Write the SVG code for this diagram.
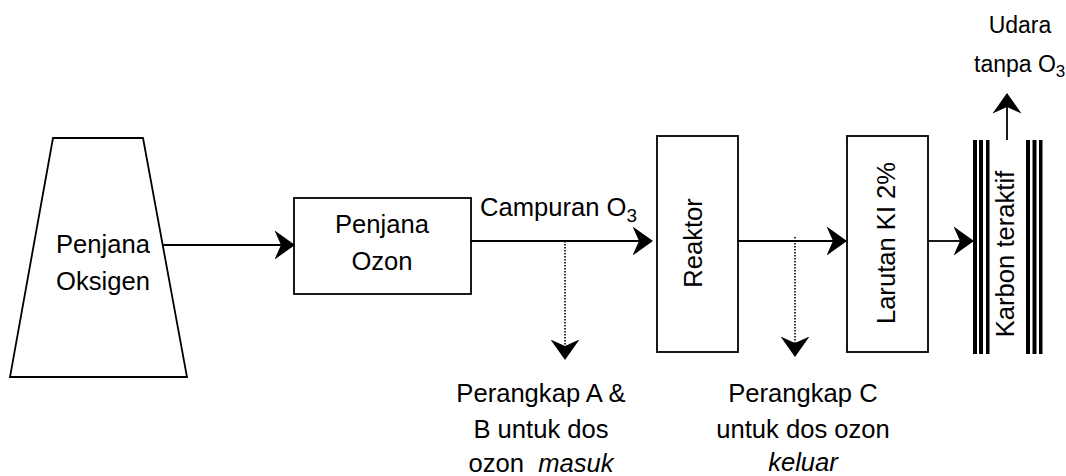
<svg xmlns="http://www.w3.org/2000/svg" width="1066" height="476" viewBox="0 0 1066 476">
<style>
.t{font-family:"Liberation Sans",Arial,Helvetica,sans-serif;font-size:25.6px;fill:#000;}
.s{font-size:23px;}
.m{text-anchor:middle;}
.box{fill:#fff;stroke:#000;stroke-width:1.8;}
.ln{fill:none;stroke:#000;stroke-width:1.8;}
.dot{fill:none;stroke:#000;stroke-width:1.6;stroke-dasharray:1.5 1.5;}
.bar{fill:#000;}
.i{font-style:italic;}
</style>
<defs>
<marker id="ah" markerUnits="userSpaceOnUse" markerWidth="21" markerHeight="30" viewBox="0 0 21 30" refX="6.5" refY="15" orient="auto">
<path d="M0,0.5 L20.5,15 L0,29.5 L6.5,15 Z" fill="#000"/>
</marker>
</defs>
<g id="connectors">
<path class="ln" d="M163,245 H281" marker-end="url(#ah)"/>
<path class="ln" d="M471,241 H639" marker-end="url(#ah)"/>
<path class="ln" d="M738,241 H833" marker-end="url(#ah)"/>
<path class="ln" d="M928,241 H960" marker-end="url(#ah)"/>
<path class="ln" d="M1007,140 V107" marker-end="url(#ah)"/>
<path class="dot" d="M565,241 V346" marker-end="url(#ah)"/>
<path class="dot" d="M795,237 V343" marker-end="url(#ah)"/>
</g>
<g id="penjana-oksigen">
<path class="box" d="M53,138 H143 L187,377 H10 Z"/>
<text class="t m" x="103" y="253">Penjana</text>
<text class="t m" x="103" y="290">Oksigen</text>
</g>
<g id="penjana-ozon">
<rect class="box" x="294" y="198" width="177" height="96"/>
<text class="t m" x="382" y="233">Penjana</text>
<text class="t m" x="382" y="270">Ozon</text>
</g>
<g id="campuran-label">
<text class="t" x="480" y="216">Campuran O<tspan font-size="19" dy="6">3</tspan></text>
</g>
<g id="reaktor">
<rect class="box" x="657" y="136" width="81" height="216"/>
<text class="t m" transform="translate(702,243) rotate(-90)" x="0" y="0">Reaktor</text>
</g>
<g id="larutan-ki">
<rect class="box" x="847" y="136" width="81" height="216"/>
<text class="t m" transform="translate(895,243) rotate(-90)" x="0" y="0">Larutan KI 2%</text>
</g>
<g id="karbon-teraktif">
<rect class="bar" x="973" y="140" width="4" height="214"/>
<rect class="bar" x="979" y="140" width="4" height="214"/>
<rect class="bar" x="986" y="140" width="3.5" height="214"/>
<rect class="bar" x="1026" y="140" width="4" height="214"/>
<rect class="bar" x="1032.5" y="140" width="4" height="214"/>
<rect class="bar" x="1039" y="140" width="3.5" height="214"/>
<text class="t m" transform="translate(1014,254) rotate(-90)" x="0" y="0">Karbon teraktif</text>
</g>
<g id="udara-label">
<text class="t s m" x="1020" y="33">Udara</text>
<text class="t s" x="974" y="72">tanpa O<tspan font-size="17" dy="5">3</tspan></text>
</g>
<g id="perangkap-ab">
<text class="t m" x="541" y="402">Perangkap A &amp;</text>
<text class="t m" x="541" y="438">B untuk dos</text>
<text class="t m" x="541" y="472" xml:space="preserve">ozon  <tspan class="i">masuk</tspan></text>
</g>
<g id="perangkap-c">
<text class="t m" x="803" y="402">Perangkap C</text>
<text class="t m" x="803" y="438">untuk dos ozon</text>
<text class="t m i" x="803" y="471">keluar</text>
</g>
</svg>
